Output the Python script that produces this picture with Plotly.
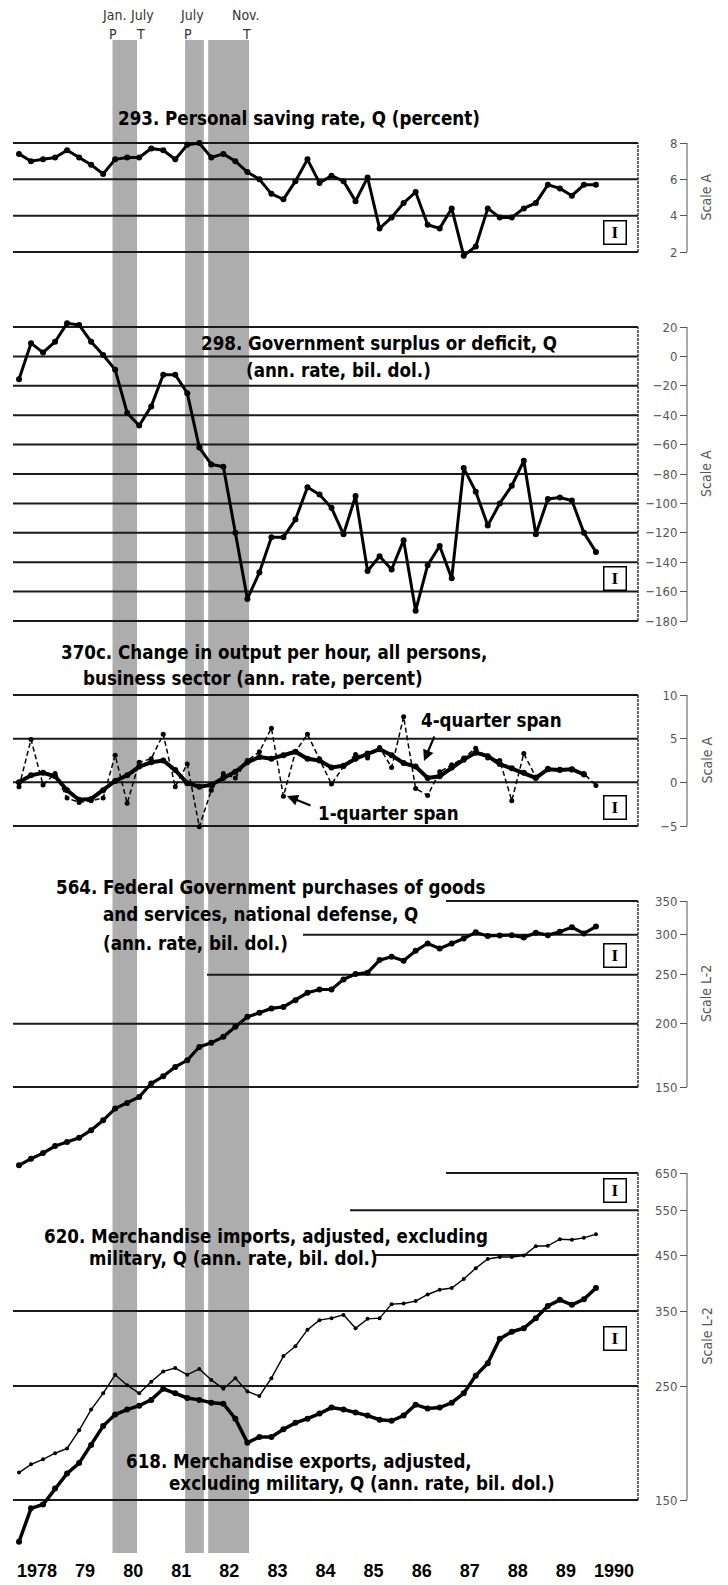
import numpy as np
import pandas as pd
import plotly.graph_objects as go

W, H = 728, 1585
PAD = 8  # page body margin in front of the figure

# quarterly observations, 1978 Q1 - 1990 Q1
quarters = pd.period_range("1978Q1", "1990Q1", freq="Q")
qx = [p.year + (p.quarter - 0.5) / 4 for p in quarters]

# 293. Personal saving rate (percent)
saving_rate = [7.4, 7.0, 7.1, 7.2, 7.6, 7.2, 6.8, 6.3, 7.1, 7.2, 7.2, 7.7, 7.6, 7.1, 7.9, 8.0,
               7.2, 7.4, 7.0, 6.4, 6.0, 5.2, 4.9, 5.9, 7.1, 5.8, 6.2, 5.9, 4.8, 6.1, 3.3, 3.9,
               4.7, 5.3, 3.5, 3.3, 4.4, 1.8, 2.3, 4.4, 3.9, 3.9, 4.4, 4.7, 5.7, 5.5, 5.1, 5.7, 5.7]

# 298. Government surplus or deficit (ann. rate, bil. dol.)
gov_surplus = [-15.5, 9, 2.6, 10, 22.5, 21.4, 10, 1, -9, -38.5, -47, -34, -12.5, -12.5, -25, -62,
               -73.5, -75, -120, -165, -147, -123, -123, -111, -89, -94, -103, -121, -95, -146,
               -136, -145, -125, -173, -142, -129, -151, -76, -92, -115, -100, -88, -71, -121,
               -97, -96, -98, -120, -133]

# 370c. Change in output per hour (ann. rate, percent)
output_1q = [-0.5, 4.9, -0.3, 1.0, -1.8, -2.3, -2.1, -1.8, 3.1, -2.4, 2.3, 2.7, 5.5, -0.5, 2.1, -5.1,
             -0.9, 1.0, 0.5, 2.5, 3.5, 6.2, -1.6, 3.5, 5.5, 2.7, -0.2, 1.8, 3.2, 2.8, 4.0, 1.7,
             7.5, -0.7, -1.5, 1.2, 2.0, 2.8, 3.9, 2.8, 2.5, -2.1, 3.3, 0.6, 1.6, 1.5, 1.4, 1.0, -0.35]
output_4q = [0.0, 0.8, 1.1, 0.7, -0.9, -2.0, -1.9, -0.9, 0.15, 0.8, 1.8, 2.3, 2.5, 1.4, -0.1, -0.5,
             -0.3, 0.5, 1.2, 2.3, 2.9, 2.7, 3.1, 3.5, 2.7, 2.5, 1.7, 1.9, 2.7, 3.3, 3.8, 3.1,
             2.2, 1.8, 0.5, 0.7, 1.7, 2.6, 3.4, 3.0, 2.1, 1.6, 1.1, 0.5, 1.5, 1.4, 1.5, 0.9]

# 564. Federal Government purchases, national defense (ann. rate, bil. dol.)
defense = [105, 108.2, 111, 114.6, 116.7, 119, 123.2, 128.9, 136, 139.5, 143.4, 152.4, 157.5,
           164.4, 169.4, 180, 183.4, 188.5, 197.3, 206.5, 210.3, 214.6, 216, 222.8, 230.4, 233.9,
           233.9, 244.9, 250.9, 252.5, 267.4, 271.5, 266.6, 279, 288.4, 282, 288.4, 295, 303.4,
           298.4, 299.2, 299.6, 296.3, 303, 299.6, 304.3, 310.4, 302, 311.5]

# 620. Merchandise imports / 618. Merchandise exports (ann. rate, bil. dol.)
imports = [169.6, 176, 180, 185, 189, 205, 225, 242, 263, 251, 242, 255, 267, 271, 263, 270,
           257, 247, 259, 244, 239, 259, 286, 299, 322, 336, 339, 344, 324, 338, 339, 361,
           362, 366, 377, 385, 388, 404, 424, 442, 446, 446, 449, 468, 469, 483, 482, 486, 494]
exports = [124.4, 144.5, 147, 158, 169, 177, 192, 209, 220, 225, 229, 235, 247, 242, 237, 235,
           232, 231, 216, 194, 199, 199, 206, 212, 216, 221, 227, 225, 222, 219, 215, 214,
           219, 230, 226, 227, 232, 242, 262, 277, 309, 319, 324, 339, 358, 368, 360, 369, 388]

year_ticks = [1978.5 + i for i in range(13)]
year_labels = ["1978", "79", "80", "81", "82", "83", "84", "85", "86", "87", "88", "89", "1990"]

# shaded recession bands (decimal years)
recessions = [(1980.07, 1980.58), (1981.58, 1981.97), (1982.06, 1982.91)]

NARROW = "DejaVu Sans Condensed, Liberation Sans Narrow, sans-serif"
SERIF = "Liberation Serif, DejaVu Serif, serif"
BOLD = "Liberation Sans, Arial, sans-serif"
GRID = "#1a1a1a"
TICK = "#555555"
TSIZE = 18.6

X0, X1 = 13, 638
FW, FH = W - PAD, H - PAD


# page pixel -> paper fraction of the figure
def px(x):
    return (x - PAD) / FW


def py(y):
    return 1 - (y - PAD) / FH


def t_at(x):
    return 1978 + (x - X0) / (X1 - X0) * 13


def axis_range(p_hi, v_hi, p_lo, v_lo, top, bot, log=False):
    if log:
        v_hi, v_lo = np.log10(v_hi), np.log10(v_lo)
    k = (p_lo - p_hi) / (v_hi - v_lo)
    return [v_lo - (bot - p_lo) / k, v_hi + (p_hi - top) / k]


# panel geometry: axis, ticks, px of top/bottom tick, domain top/bottom, log, grid starts, scale label
panels = [
    ("y", [2, 4, 6, 8], 143, 252, 125, 268, False, {}, "Scale A"),
    ("y2", list(range(-180, 21, 20)), 327, 621, 312, 632, False, {}, "Scale A"),
    ("y3", [-5, 0, 5, 10], 695, 826, 688, 838, False, {}, "Scale A"),
    ("y4", [150, 200, 250, 300, 350], 901, 1087, 878, 1178, True,
     {350: 446, 300: 303, 250: 207}, "Scale L-2"),
    ("y5", [150, 250, 350, 450, 550, 650], 1173, 1500, 1158, 1552, True,
     {650: 446, 550: 350, 450: 374}, "Scale L-2"),
]

fig = go.Figure()

dot = dict(color="black")
fig.add_trace(go.Scatter(x=qx, y=saving_rate, mode="lines+markers", yaxis="y",
                         line=dict(color="black", width=3), marker=dict(size=6, **dot)))
fig.add_trace(go.Scatter(x=qx, y=gov_surplus, mode="lines+markers", yaxis="y2",
                         line=dict(color="black", width=3), marker=dict(size=6, **dot)))
fig.add_trace(go.Scatter(x=qx, y=output_1q, mode="lines+markers", yaxis="y3",
                         line=dict(color="black", width=1.5, dash="5px,3px"), marker=dict(size=5, **dot)))
fig.add_trace(go.Scatter(x=qx[:len(output_4q)], y=output_4q, mode="lines+markers", yaxis="y3",
                         line=dict(color="black", width=4), marker=dict(size=6, **dot)))
fig.add_trace(go.Scatter(x=qx, y=defense, mode="lines+markers", yaxis="y4",
                         line=dict(color="black", width=3.2), marker=dict(size=6, **dot)))
fig.add_trace(go.Scatter(x=qx, y=imports, mode="lines+markers", yaxis="y5",
                         line=dict(color="black", width=1.4), marker=dict(size=4, **dot)))
fig.add_trace(go.Scatter(x=qx, y=exports, mode="lines+markers", yaxis="y5",
                         line=dict(color="black", width=3.5), marker=dict(size=6, **dot)))

shapes = []
for a, b in recessions:
    shapes.append(dict(type="rect", xref="x", yref="paper", x0=a, x1=b, y0=py(1553), y1=py(40),
                       fillcolor="#adadad", line=dict(width=0), layer="below"))

layout_axes = {}
annotations = []
for ax, ticks, p_hi, p_lo, top, bot, log, starts, scale in panels:
    v_hi, v_lo = max(ticks), min(ticks)
    rng = axis_range(p_hi, v_hi, p_lo, v_lo, top, bot, log)
    key = "yaxis" if ax == "y" else "yaxis" + ax[1:]
    layout_axes[key] = dict(
        domain=[py(bot), py(top)], range=rng, type="log" if log else "linear",
        anchor="free", position=px(687), side="left", automargin=False,
        tickvals=ticks, ticks="outside", ticklen=7, tickwidth=1, tickcolor=TICK,
        tickfont=dict(family=NARROW, size=13, color=TICK),
        showgrid=False, zeroline=False, showline=False, fixedrange=True,
    )
    for v in ticks:
        shapes.append(dict(type="line", xref="x", yref=ax, x0=t_at(starts.get(v, X0)), x1=t_at(X1),
                           y0=v, y1=v, line=dict(color=GRID, width=2), layer="below"))
    # right frame edge and scale bracket
    shapes.append(dict(type="line", xref="paper", yref=ax, x0=px(X1), x1=px(X1), y0=v_lo, y1=v_hi,
                       line=dict(color="#333333", width=1.5, dash="3px,1px")))
    shapes.append(dict(type="line", xref="paper", yref=ax, x0=px(687), x1=px(687), y0=v_lo, y1=v_hi,
                       line=dict(color=TICK, width=1)))
    annotations.append(dict(xref="paper", yref="paper", x=px(706), y=py((p_hi + p_lo) / 2),
                            xanchor="center", yanchor="middle",
                            text=scale, textangle=-90, showarrow=False,
                            font=dict(family=NARROW, size=14, color=TICK)))


def title(text, x, y, size=TSIZE):
    annotations.append(dict(xref="paper", yref="paper", x=px(x), y=py(y), xanchor="left", yanchor="middle",
                            text=text, showarrow=False,
                            font=dict(family=NARROW, size=size, color="black", weight="bold")))


title("293. Personal saving rate, Q (percent)", 116, 118)
title("298. Government surplus or deficit, Q", 199, 343)
title("(ann. rate, bil. dol.)", 244, 370)
title("370c. Change in output per hour, all persons,", 59, 652)
title("business sector (ann. rate, percent)", 81, 678)
title("4-quarter span", 419, 720)
title("1-quarter span", 316, 813)
title("564. Federal Government purchases of goods", 54, 887)
title("and services, national defense, Q", 101, 915)
title("(ann. rate, bil. dol.)", 101, 943)
title("620. Merchandise imports, adjusted, excluding", 42, 1236)
title("military, Q (ann. rate, bil. dol.)", 87, 1258)
title("618. Merchandise exports, adjusted,", 124, 1461)
title("excluding military, Q (ann. rate, bil. dol.)", 167, 1483)

# arrows to the two productivity spans
annotations.append(dict(xref="paper", yref="paper", x=px(424), y=py(761), ax=11, ay=-26, text="",
                        showarrow=True, arrowhead=2, arrowsize=1, arrowwidth=2.2, arrowcolor="black"))
annotations.append(dict(xref="paper", yref="paper", x=px(287), y=py(796), ax=25, ay=10, text="",
                        showarrow=True, arrowhead=2, arrowsize=1, arrowwidth=2.2, arrowcolor="black"))

# "I" boxes
for yb in [233, 578, 807, 955, 1190, 1338]:
    annotations.append(dict(xref="paper", yref="paper", x=px(615), y=py(yb), xanchor="center", yanchor="middle",
                            text="<b>I</b>", showarrow=False, width=19, height=20, borderpad=1,
                            bgcolor="white", bordercolor="black", borderwidth=1.5,
                            font=dict(family=SERIF, size=17, color="black")))

# turning point labels
for text, x, y in [("Jan.", 114, 15), ("July", 142, 15), ("July", 192, 15), ("Nov.", 246, 15),
                   ("P", 113, 34), ("T", 140, 34), ("P", 188, 34), ("T", 246, 34)]:
    annotations.append(dict(xref="paper", yref="paper", x=px(x), y=py(y), xanchor="center", yanchor="middle",
                            text=text, showarrow=False,
                            font=dict(family=NARROW, size=14, color="#333333")))

fig.update_layout(
    width=FW, height=FH, margin=dict(l=0, r=0, t=0, b=0),
    paper_bgcolor="white", plot_bgcolor="rgba(0,0,0,0)", showlegend=False,
    xaxis=dict(domain=[px(X0), px(X1)], range=[1978, 1991], anchor="free", position=py(1558),
               tickvals=year_ticks, ticktext=year_labels, ticks="", showgrid=False, zeroline=False,
               showline=False, fixedrange=True,
               tickfont=dict(family=BOLD, size=18, color="black", weight="bold")),
    shapes=shapes, annotations=annotations,
    **layout_axes,
)

fig.write_html("out.html")
